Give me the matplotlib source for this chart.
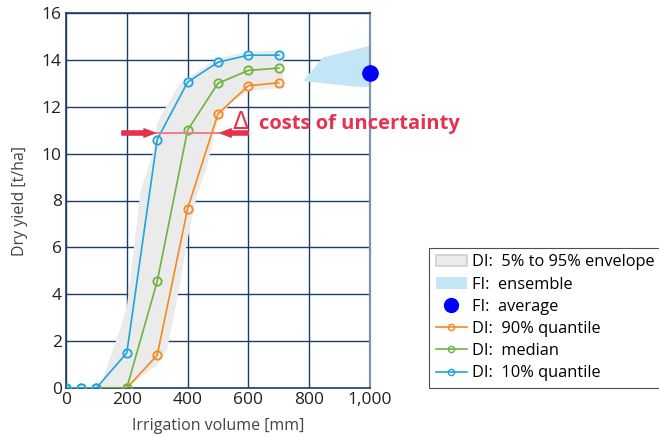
import matplotlib
matplotlib.use('Agg')
import matplotlib.pyplot as plt
from matplotlib.patches import Patch
from matplotlib.lines import Line2D
import numpy as np

plt.rcParams['font.family'] = ['Open Sans', 'DejaVu Sans']

# Irrigation volume [mm] and dry yield [t/ha] quantiles
x_q10 = [0, 50, 100, 200, 300, 400, 500, 600, 700]
y_q10 = [0, 0, 0, 1.5, 10.6, 13.05, 13.9, 14.2, 14.2]
x_med = [0, 50, 100, 200, 300, 400, 500, 600, 700]
y_med = [0, 0, 0, 0, 4.55, 11.0, 13.0, 13.55, 13.65]
x_q90 = [200, 300, 400, 500, 600, 700]
y_q90 = [0, 1.4, 7.65, 11.7, 12.9, 13.02]

# 5%-95% envelope outline (upper-left edge, lower-right edge)
env_up_x = [112, 145, 178, 200, 220, 245, 288, 299, 336, 375, 441, 497, 595, 715]
env_up_y = [0, 1.3, 2.5, 3.45, 5.6, 8.4, 10.1, 11.3, 12.15, 13.0, 13.57, 14.07, 14.35, 14.4]
env_lo_x = [200, 300, 332, 365, 398, 430, 463, 497, 540, 605, 715]
env_lo_y = [0, 1.0, 1.6, 3.75, 6.2, 8.2, 9.4, 11.3, 12.15, 12.7, 12.8]

# full irrigation ensemble outline and average
fi_x = [780, 845, 1000, 1010, 1010, 1000, 955]
fi_y = [13.1, 14.1, 14.6, 14.6, 12.85, 12.85, 12.85]
fi_avg_x = 1000
fi_avg_y = 13.45

# cost of uncertainty arrows
cost_y = 10.88
cost_left = (184, 293)
cost_right = (600, 507)

c_q10 = '#1ea4de'
c_med = '#6db33f'
c_q90 = '#f5891f'
c_grid = '#1c3d66'
c_red = '#e5334f'

fig = plt.figure(figsize=(6.59, 4.37), dpi=100)
ax = fig.add_axes([66 / 659, 49 / 437, 304 / 659, 375 / 437])

ax.fill(np.r_[env_up_x, env_lo_x[::-1]], np.r_[env_up_y, env_lo_y[::-1]],
        color='#ebebeb', lw=0, zorder=1)
ax.fill(fi_x, fi_y, color='#c2e6f6', lw=0, zorder=1)

line_kw = dict(marker='o', mfc='none', ms=6, mew=1.3, lw=1.2, zorder=3)
ax.plot(x_q90, y_q90, color=c_q90, **line_kw)
ax.plot(x_med, y_med, color=c_med, **line_kw)
ax.plot(x_q10, y_q10, color=c_q10, **line_kw)

ax.plot(fi_avg_x, fi_avg_y, 'o', color='#0000ff', ms=11, zorder=5, clip_on=False)

# arrows
ax.plot([cost_left[0], cost_right[0]], [cost_y, cost_y], color='#f07d8e', lw=1.4, zorder=4)
arrow_kw = dict(arrowstyle='simple,head_length=0.8,head_width=0.6,tail_width=0.3',
                color=c_red, shrinkA=0, shrinkB=0, mutation_scale=10)
ax.annotate('', xy=(cost_left[1], cost_y), xytext=(cost_left[0], cost_y),
            arrowprops=arrow_kw, zorder=4)
ax.annotate('', xy=(cost_right[1], cost_y), xytext=(cost_right[0], cost_y),
            arrowprops=arrow_kw, zorder=4)
ax.text(548, 11.05, '\u0394', color=c_red, fontsize=17, family=['DejaVu Sans'],
        ha='left', va='baseline', zorder=4)
ax.text(635, 11.05, 'costs of uncertainty', color=c_red, fontsize=14.5,
        fontweight='bold', ha='left', va='baseline', zorder=4, clip_on=False)

ax.set_xlim(0, 1000)
ax.set_ylim(0, 16)
ax.set_xticks([0, 200, 400, 600, 800, 1000])
ax.set_xticklabels(['0', '200', '400', '600', '800', '1,000'])
ax.set_yticks(range(0, 17, 2))
ax.tick_params(length=0, labelsize=12.5, labelcolor='#222222', pad=3)
ax.grid(True, color=c_grid, lw=1.0, zorder=0)
ax.set_axisbelow(True)
for side in ax.spines.values():
    side.set_color(c_grid)
    side.set_linewidth(1.2)
ax.spines['right'].set_color('#7f93aa')
ax.spines['right'].set_linewidth(1.6)

ax.set_xlabel('Irrigation volume [mm]', fontsize=11.5, color='#444444', labelpad=7)
ax.set_ylabel('Dry yield [t/ha]', fontsize=11.5, color='#444444', labelpad=10)

handles = [
    Patch(facecolor='#ebebeb', edgecolor='#cfcfcf', lw=1.2),
    Patch(facecolor='#c2e6f6', edgecolor='none'),
    Line2D([], [], ls='none', marker='o', color='#0000ff', ms=10),
    Line2D([], [], color=c_q90, marker='o', mfc='none', ms=4.5, lw=1.2),
    Line2D([], [], color=c_med, marker='o', mfc='none', ms=4.5, lw=1.2),
    Line2D([], [], color=c_q10, marker='o', mfc='none', ms=4.5, lw=1.2),
]
labels = ['DI:  5% to 95% envelope', 'FI:  ensemble', 'FI:  average',
          'DI:  90% quantile', 'DI:  median', 'DI:  10% quantile']
leg = fig.legend(handles, labels, loc='lower left', bbox_to_anchor=(429 / 659, 49 / 437),
                 fontsize=11.8, frameon=True, fancybox=False, handlelength=1.9,
                 handletextpad=0.35, borderpad=0.4, labelspacing=0.38, borderaxespad=0)
leg.get_frame().set_edgecolor('#222222')
leg.get_frame().set_linewidth(0.8)

fig.savefig('out.png', dpi=100)
